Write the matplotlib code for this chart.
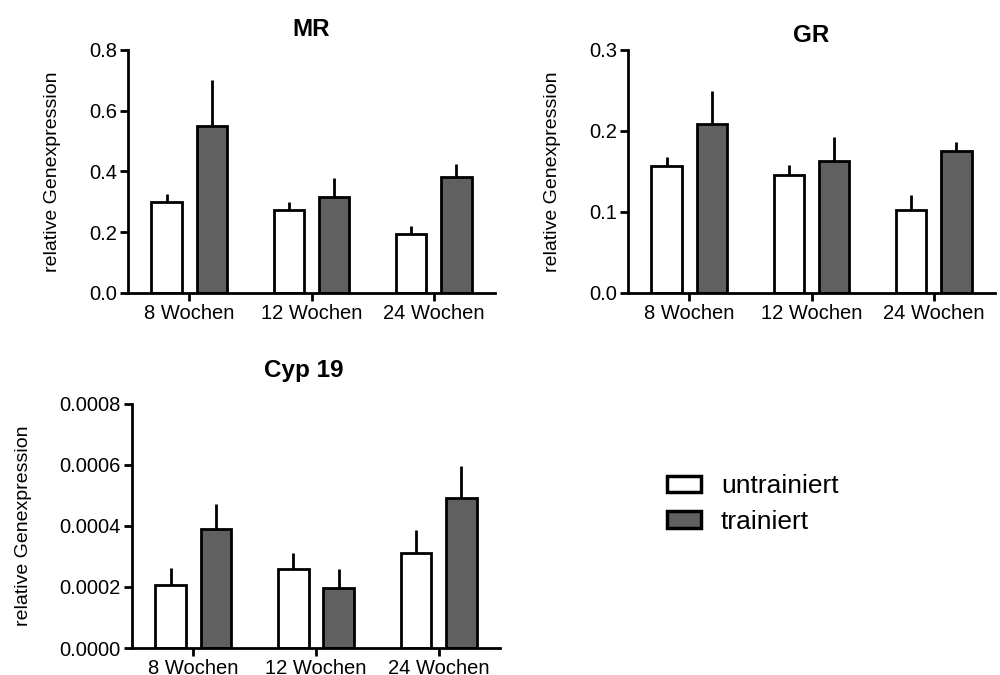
import numpy as np
import matplotlib
matplotlib.use("Agg")
import matplotlib.pyplot as plt
from matplotlib.patches import Patch

plt.rcParams['font.family'] = ['Liberation Sans', 'DejaVu Sans']

groups = ["8 Wochen", "12 Wochen", "24 Wochen"]
series = ["untrainiert", "trainiert"]

# mean and SEM per group, untrained / trained
mr_untr = [0.300, 0.273, 0.193]
mr_untr_err = [0.025, 0.026, 0.028]
mr_tr = [0.551, 0.317, 0.383]
mr_tr_err = [0.149, 0.061, 0.042]

gr_untr = [0.157, 0.146, 0.103]
gr_untr_err = [0.011, 0.012, 0.018]
gr_tr = [0.209, 0.163, 0.175]
gr_tr_err = [0.040, 0.030, 0.011]

cyp_untr = [0.000208, 0.000260, 0.000313]
cyp_untr_err = [0.000054, 0.000051, 0.000075]
cyp_tr = [0.000390, 0.000198, 0.000492]
cyp_tr_err = [0.000082, 0.000061, 0.000106]

white = "white"
dark = "#606060"

fig = plt.figure(figsize=(10, 6.75), dpi=100)


def bar_panel(rect, title, untr, untr_err, tr, tr_err, ymax, yticks, fmt,
              title_pad, title_x=0.5):
    ax = fig.add_axes(rect)
    x = np.arange(len(groups))
    off, w = 0.185, 0.25
    for xs, vals, errs, col in [(x - off, untr, untr_err, white), (x + off, tr, tr_err, dark)]:
        ax.bar(xs, vals, width=w, color=col, edgecolor="black", linewidth=2, zorder=3)
        # upward-only error bars
        ax.errorbar(xs, vals, yerr=[np.zeros(len(vals)), errs], fmt="none",
                    ecolor="black", elinewidth=2, capsize=0, zorder=2)
    ax.set_xlim(-0.5, 2.5)
    ax.set_ylim(0, ymax)
    ax.set_yticks(yticks)
    ax.set_yticklabels([fmt.format(t) for t in yticks])
    ax.set_xticks(x)
    ax.set_xticklabels(groups)
    for s in ["top", "right"]:
        ax.spines[s].set_visible(False)
    ax.spines["left"].set_linewidth(2)
    ax.spines["bottom"].set_linewidth(2)
    ax.spines["bottom"].set_zorder(5)
    ax.tick_params(axis="both", direction="out", width=2, length=6, labelsize=14.5, pad=2)
    ax.set_ylabel("relative Genexpression", fontsize=14, labelpad=20)
    ax.set_title(title, fontsize=17.5, fontweight="bold", pad=title_pad, x=title_x)
    return ax


bar_panel([0.128, 0.566, 0.367, 0.360], "MR", mr_untr, mr_untr_err, mr_tr, mr_tr_err,
          0.8, [0.0, 0.2, 0.4, 0.6, 0.8], "{:.1f}", 10)
bar_panel([0.628, 0.566, 0.367, 0.360], "GR", gr_untr, gr_untr_err, gr_tr, gr_tr_err,
          0.3, [0.0, 0.1, 0.2, 0.3], "{:.1f}", 6)
bar_panel([0.132, 0.040, 0.368, 0.3615], "Cyp 19", cyp_untr, cyp_untr_err, cyp_tr, cyp_tr_err,
          0.0008, [0.0, 0.0002, 0.0004, 0.0006, 0.0008], "{:.4f}", 19.5, 0.467)

handles = [Patch(facecolor=white, edgecolor="black", linewidth=2.5),
           Patch(facecolor=dark, edgecolor="black", linewidth=2.5)]
fig.legend(handles, series, loc="center left", bbox_to_anchor=(0.643, 0.253),
           frameon=False, fontsize=19, handlelength=1.3, handleheight=0.6,
           handletextpad=0.75, labelspacing=0.45)

fig.savefig("out.png", dpi=100)
